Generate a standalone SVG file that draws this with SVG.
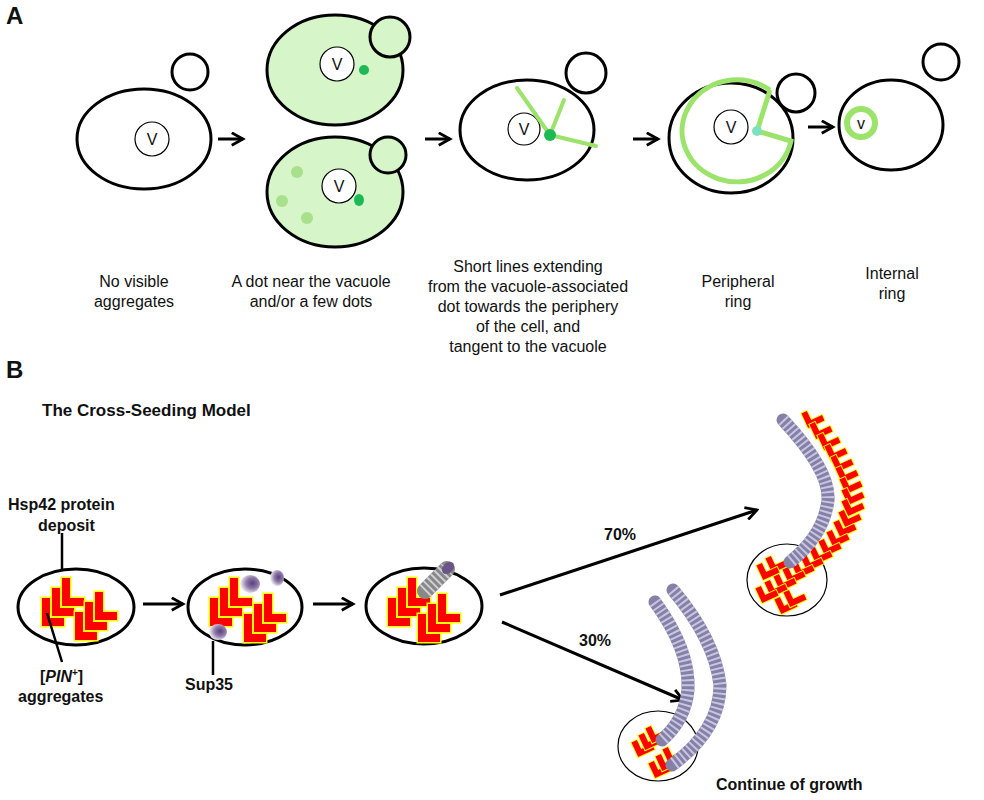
<svg xmlns="http://www.w3.org/2000/svg" width="984" height="800" viewBox="0 0 984 800">
<defs>
<style>
text{font-family:"Liberation Sans",Arial,sans-serif;fill:#111}
.lab{font-size:16px;text-anchor:middle}
.b{font-weight:bold}
.cell{fill:#fff;stroke:#000;stroke-width:3}
.thin{fill:#fff;stroke:#000;stroke-width:1.2}
.gcell{fill:#d6f5c8;stroke:#000;stroke-width:3}
.vac{fill:#fff;stroke:#000;stroke-width:1.2}
.arr{stroke:#000;stroke-width:3;fill:none;marker-end:url(#ah)}
.ln{stroke:#000;stroke-width:2.5;fill:none}
.gl{stroke:#9be36a;stroke-width:4;fill:none;stroke-linecap:round}
.fb{fill:none;stroke:#8580a8;stroke-width:13;stroke-linecap:round}
.fs{fill:none;stroke:#c9c5e0;stroke-width:13;stroke-dasharray:2 3}
</style>
<marker id="ah" viewBox="0 0 12 12" refX="10" refY="6" markerWidth="5" markerHeight="5" orient="auto" markerUnits="strokeWidth"><path d="M1,1 L10,6 L1,11" fill="none" stroke="#000" stroke-width="2.2"/></marker>
<path id="L" d="M0,0 h8 v20 h14 v8 h-22 z" fill="#f00" stroke="#ff0" stroke-width="3" paint-order="stroke"/>
<g id="LL"><use href="#L" x="20" y="-20"/><use href="#L" x="10" y="-10"/><use href="#L"/></g>
<path id="C0" d="M0,0 h6 v10 h12 v6 h-18 z" fill="#f00" stroke="#ff0" stroke-width="2" paint-order="stroke"/>
<use id="C" href="#C0" transform="rotate(-25) translate(-9,-8)"/>
<radialGradient id="sp" cx="0.62" cy="0.45" r="0.6"><stop offset="0" stop-color="#5a3f7a"/><stop offset="0.5" stop-color="#8e78a8"/><stop offset="1" stop-color="#eeeef4"/></radialGradient>
</defs>
<rect width="984" height="800" fill="#fff"/>
<text x="6" y="24" font-size="24" class="b">A</text>
<text x="6" y="378" font-size="24" class="b">B</text>

<g id="cell1"><ellipse cx="144" cy="139" rx="67" ry="50" class="cell"/><circle cx="190" cy="72" r="18" class="cell"/><circle cx="152" cy="139" r="17" class="vac"/><text x="152" y="145" class="lab">V</text></g>
<g id="cell2a"><ellipse cx="335" cy="70" rx="68" ry="55" class="gcell"/><circle cx="390" cy="37" r="20" class="gcell"/><circle cx="337" cy="64" r="17" class="vac"/><text x="337" y="70" class="lab">V</text><circle cx="364" cy="70" r="5" fill="#1db954"/></g>
<g id="cell2b"><ellipse cx="335" cy="192" rx="68" ry="55" class="gcell"/><circle cx="388" cy="155" r="18" class="gcell"/><circle cx="339" cy="186" r="17" class="vac"/><text x="339" y="192" class="lab">V</text><ellipse cx="359" cy="200" rx="5" ry="6" fill="#1db954"/><circle cx="297" cy="172" r="6" fill="#a8e08c"/><circle cx="282" cy="201" r="6" fill="#a8e08c"/><circle cx="307" cy="218" r="6" fill="#a8e08c"/></g>
<g id="cell3"><ellipse cx="527" cy="130" rx="67" ry="50" class="cell"/><circle cx="586" cy="73" r="20" class="cell"/><circle cx="524" cy="129" r="16" class="vac"/><text x="524" y="135" class="lab">V</text><path class="gl" d="M550,135 L517,88 M550,135 L564,100 M550,135 L596,146"/><circle cx="550" cy="135" r="6" fill="#1db954"/></g>
<g id="cell4"><ellipse cx="731" cy="138" rx="62" ry="55" class="cell"/><circle cx="796" cy="93" r="19" class="cell"/><circle cx="731" cy="127" r="17" class="vac"/><text x="731" y="133" class="lab">V</text><path d="M770,90 L757,131 L791,141 A55 51 0 1 1 770,90" fill="none" stroke="#9be36a" stroke-width="5"/><circle cx="757" cy="131" r="5" fill="#7fe0c0"/></g>
<g id="cell5"><ellipse cx="891" cy="125" rx="52" ry="45" class="cell"/><circle cx="941" cy="62" r="18" class="cell"/><circle cx="861" cy="123" r="14" fill="#fff" stroke="#9be36a" stroke-width="6"/><text x="861" y="129" class="lab">v</text></g>

<g id="arrowsA">
<path class="arr" d="M218,139 H243"/><path class="arr" d="M425,139 H450"/><path class="arr" d="M633,139 H658"/><path class="arr" d="M808,127 H833"/>
</g>
<g id="labelsA">
<text class="lab" x="134" y="287">No visible</text><text class="lab" x="134" y="307">aggregates</text>
<text class="lab" x="311" y="287">A dot near the vacuole</text><text class="lab" x="311" y="307">and/or a few dots</text>
<text class="lab" x="528" y="272">Short lines extending</text><text class="lab" x="528" y="292">from the vacuole-associated</text><text class="lab" x="528" y="312">dot towards the periphery</text><text class="lab" x="528" y="332">of the cell, and</text><text class="lab" x="528" y="352">tangent to the vacuole</text>
<text class="lab" x="738" y="287">Peripheral</text><text class="lab" x="738" y="307">ring</text>
<text class="lab" x="892" y="279">Internal</text><text class="lab" x="892" y="299">ring</text>
</g>

<text x="42" y="416" font-size="17" class="b">The Cross-Seeding Model</text>

<g id="b1"><ellipse cx="76" cy="607" rx="58" ry="38" class="cell"/><use href="#LL" x="42" y="598"/><use href="#LL" x="75" y="612"/>
<path class="ln" d="M62,533 V569 M47,613 L62,662"/>
<text x="8" y="510" font-size="16" class="b">Hsp42 protein</text><text x="38" y="531" font-size="16" class="b">deposit</text>
<text x="40" y="682" font-size="16" class="b">[<tspan font-style="italic">PIN</tspan><tspan font-size="10" dy="-6">+</tspan><tspan dy="6">]</tspan></text>
<text x="18" y="702" font-size="16" class="b">aggregates</text></g>

<g id="b2"><ellipse cx="245" cy="607" rx="57" ry="38" class="cell"/><use href="#LL" x="210" y="598"/><use href="#LL" x="244" y="614"/>
<ellipse cx="250" cy="584" rx="10" ry="9" fill="url(#sp)"/><ellipse cx="277" cy="578" rx="7" ry="8" fill="url(#sp)"/><ellipse cx="218" cy="632" rx="9" ry="8" fill="url(#sp)"/>
<path class="ln" d="M213,641 V675"/><text x="185" y="690" font-size="16" class="b">Sup35</text></g>

<g id="b3"><ellipse cx="424" cy="606" rx="58" ry="38" class="cell"/><use href="#LL" x="388" y="598"/><use href="#LL" x="418" y="614"/>
<path d="M425,591 L447,569" stroke="#888" stroke-width="16" stroke-linecap="round"/><path d="M425,591 L447,569" stroke="#cfcfd6" stroke-width="16" stroke-dasharray="2 3"/><ellipse cx="448" cy="568" rx="5" ry="7" fill="#6a5588" transform="rotate(45 448 568)"/></g>

<g id="connectors">
<path class="arr" d="M143,604 H183"/><path class="arr" d="M313,604 H353"/>
<path class="arr" d="M500,595 L757,510"/><path class="arr" d="M502,622 L683,700"/>
<text x="604" y="540" font-size="16" class="b">70%</text><text x="579" y="646" font-size="16" class="b">30%</text>
</g>

<g id="top70">
<ellipse cx="787" cy="580" rx="40" ry="36" class="thin"/>
<use href="#C" x="813" y="417"/><use href="#C" x="821" y="428"/><use href="#C" x="829" y="439"/><use href="#C" x="836" y="450"/><use href="#C" x="842" y="461"/><use href="#C" x="847" y="472"/><use href="#C" x="851" y="483"/><use href="#C" x="853" y="494"/><use href="#C" x="853" y="505"/><use href="#C" x="850" y="516"/><use href="#C" x="845" y="526"/><use href="#C" x="838" y="536"/><use href="#C" x="830" y="545"/><use href="#C" x="821" y="553"/><use href="#C" x="812" y="560"/><use href="#C" x="803" y="567"/><use href="#C" x="794" y="573"/><use href="#C" x="785" y="580"/><use href="#C" x="776" y="586"/><use href="#C" x="767" y="592"/>
<use href="#C" x="777" y="562"/><use href="#C" x="768" y="569"/><use href="#C" x="786" y="603"/><use href="#C" x="795" y="596"/>
<path class="fb" d="M783,420 Q830,470 828,500 Q824,535 790,562"/><path class="fs" d="M783,420 Q830,470 828,500 Q824,535 790,562"/>
</g>

<g id="bottom30">
<ellipse cx="658" cy="746" rx="40" ry="35" class="thin"/>
<use href="#C" x="643" y="746"/><use href="#C" x="650" y="739"/><use href="#C" x="657" y="732"/><use href="#C" x="660" y="767"/><use href="#C" x="667" y="760"/><use href="#C" x="674" y="753"/>
<path class="fb" d="M655,602 Q690,650 688,690 Q685,720 662,740"/><path class="fs" d="M655,602 Q690,650 688,690 Q685,720 662,740"/>
<path class="fb" d="M673,590 Q715,640 720,685 Q720,730 672,765"/><path class="fs" d="M673,590 Q715,640 720,685 Q720,730 672,765"/>
<text x="716" y="790" font-size="16" class="b">Continue of growth</text>
</g>
</svg>
